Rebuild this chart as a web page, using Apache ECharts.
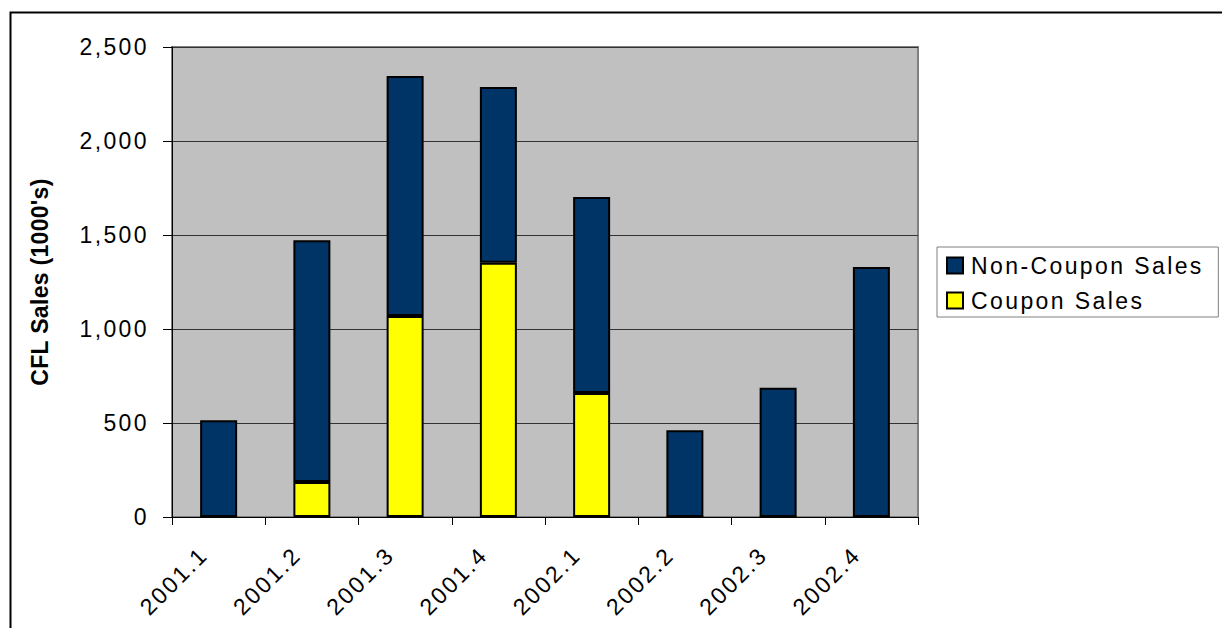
<!DOCTYPE html>
<html>
<head>
<meta charset="utf-8">
<script src="https://cdn.jsdelivr.net/npm/echarts@6/dist/echarts.min.js"></script>
<style>
html,body{margin:0;padding:0;background:#fff;}
#chart{width:1222px;height:628px;}
#chart text{letter-spacing:2.4px;}
#chart text[style*="bold"]{letter-spacing:0.3px;}
</style>
</head>
<body>
<div id="chart"></div>
<script>
const categories = ['2001.1','2001.2','2001.3','2001.4','2002.1','2002.2','2002.3','2002.4'];
const couponSales = [0, 186, 1069, 1353, 660, 0, 0, 0];
const nonCouponSales = [515, 1286, 1277, 934, 1042, 461, 688, 1330];
const yTicks = [0, 500, 1000, 1500, 2000, 2500];

const FONT = 'Liberation Sans, Arial, sans-serif';
const chart = echarts.init(document.getElementById('chart'), null, {renderer: 'svg'});
chart.setOption({
  animation: false,
  backgroundColor: '#ffffff',
  graphic: [{
    type: 'rect', left: 8, top: 10, z: 100, silent: true,
    shape: {x: 0, y: 0, width: 1400, height: 800},
    style: {fill: 'none', stroke: '#000', lineWidth: 2}
  }],
  grid: {
    left: 172, right: 304, top: 47, bottom: 111,
    show: true, backgroundColor: '#c0c0c0', borderColor: '#808080', borderWidth: 2
  },
  legend: {
    orient: 'vertical', left: 937, top: 247,
    data: ['Non-Coupon Sales', 'Coupon Sales'],
    icon: 'rect', itemWidth: 16, itemHeight: 16, itemGap: 12,
    padding: [7, 53, 5, 9],
    borderColor: '#808080', borderWidth: 1, backgroundColor: '#fff',
    textStyle: {fontFamily: FONT, fontSize: 23, color: '#000', padding: [0, 0, 0, 3]}
  },
  xAxis: {
    type: 'category', data: categories,
    axisLine: {lineStyle: {color: '#000', width: 1}},
    axisTick: {show: true, length: 8, lineStyle: {color: '#000'}},
    axisLabel: {interval: 0, rotate: 45, margin: 19, fontFamily: FONT, fontSize: 23, color: '#000', padding: [0, 21, 0, 0]},
    splitLine: {show: false}
  },
  yAxis: {
    type: 'value', min: 0, max: 2500, interval: 500,
    name: "CFL Sales (1000's)", nameLocation: 'middle', nameGap: 121,
    nameTextStyle: {fontFamily: FONT, fontSize: 23, fontWeight: 'bold', color: '#000'},
    axisLine: {show: true, lineStyle: {color: '#000', width: 1}},
    axisTick: {show: true, length: 9, lineStyle: {color: '#000'}},
    axisLabel: {margin: 23, fontFamily: FONT, fontSize: 23, color: '#000',
      formatter: v => yTicks.includes(v) ? v.toLocaleString('en-US') : ''},
    splitLine: {show: true, lineStyle: {color: '#333', width: 1}}
  },
  series: [
    {
      name: 'Coupon Sales', type: 'bar', stack: 'total', data: couponSales,
      barWidth: 37,
      itemStyle: {color: '#ffff00', borderColor: '#000', borderWidth: 2}
    },
    {
      name: 'Non-Coupon Sales', type: 'bar', stack: 'total', data: nonCouponSales,
      barWidth: 37,
      itemStyle: {color: '#003366', borderColor: '#000', borderWidth: 2}
    }
  ]
});
</script>
</body>
</html>
